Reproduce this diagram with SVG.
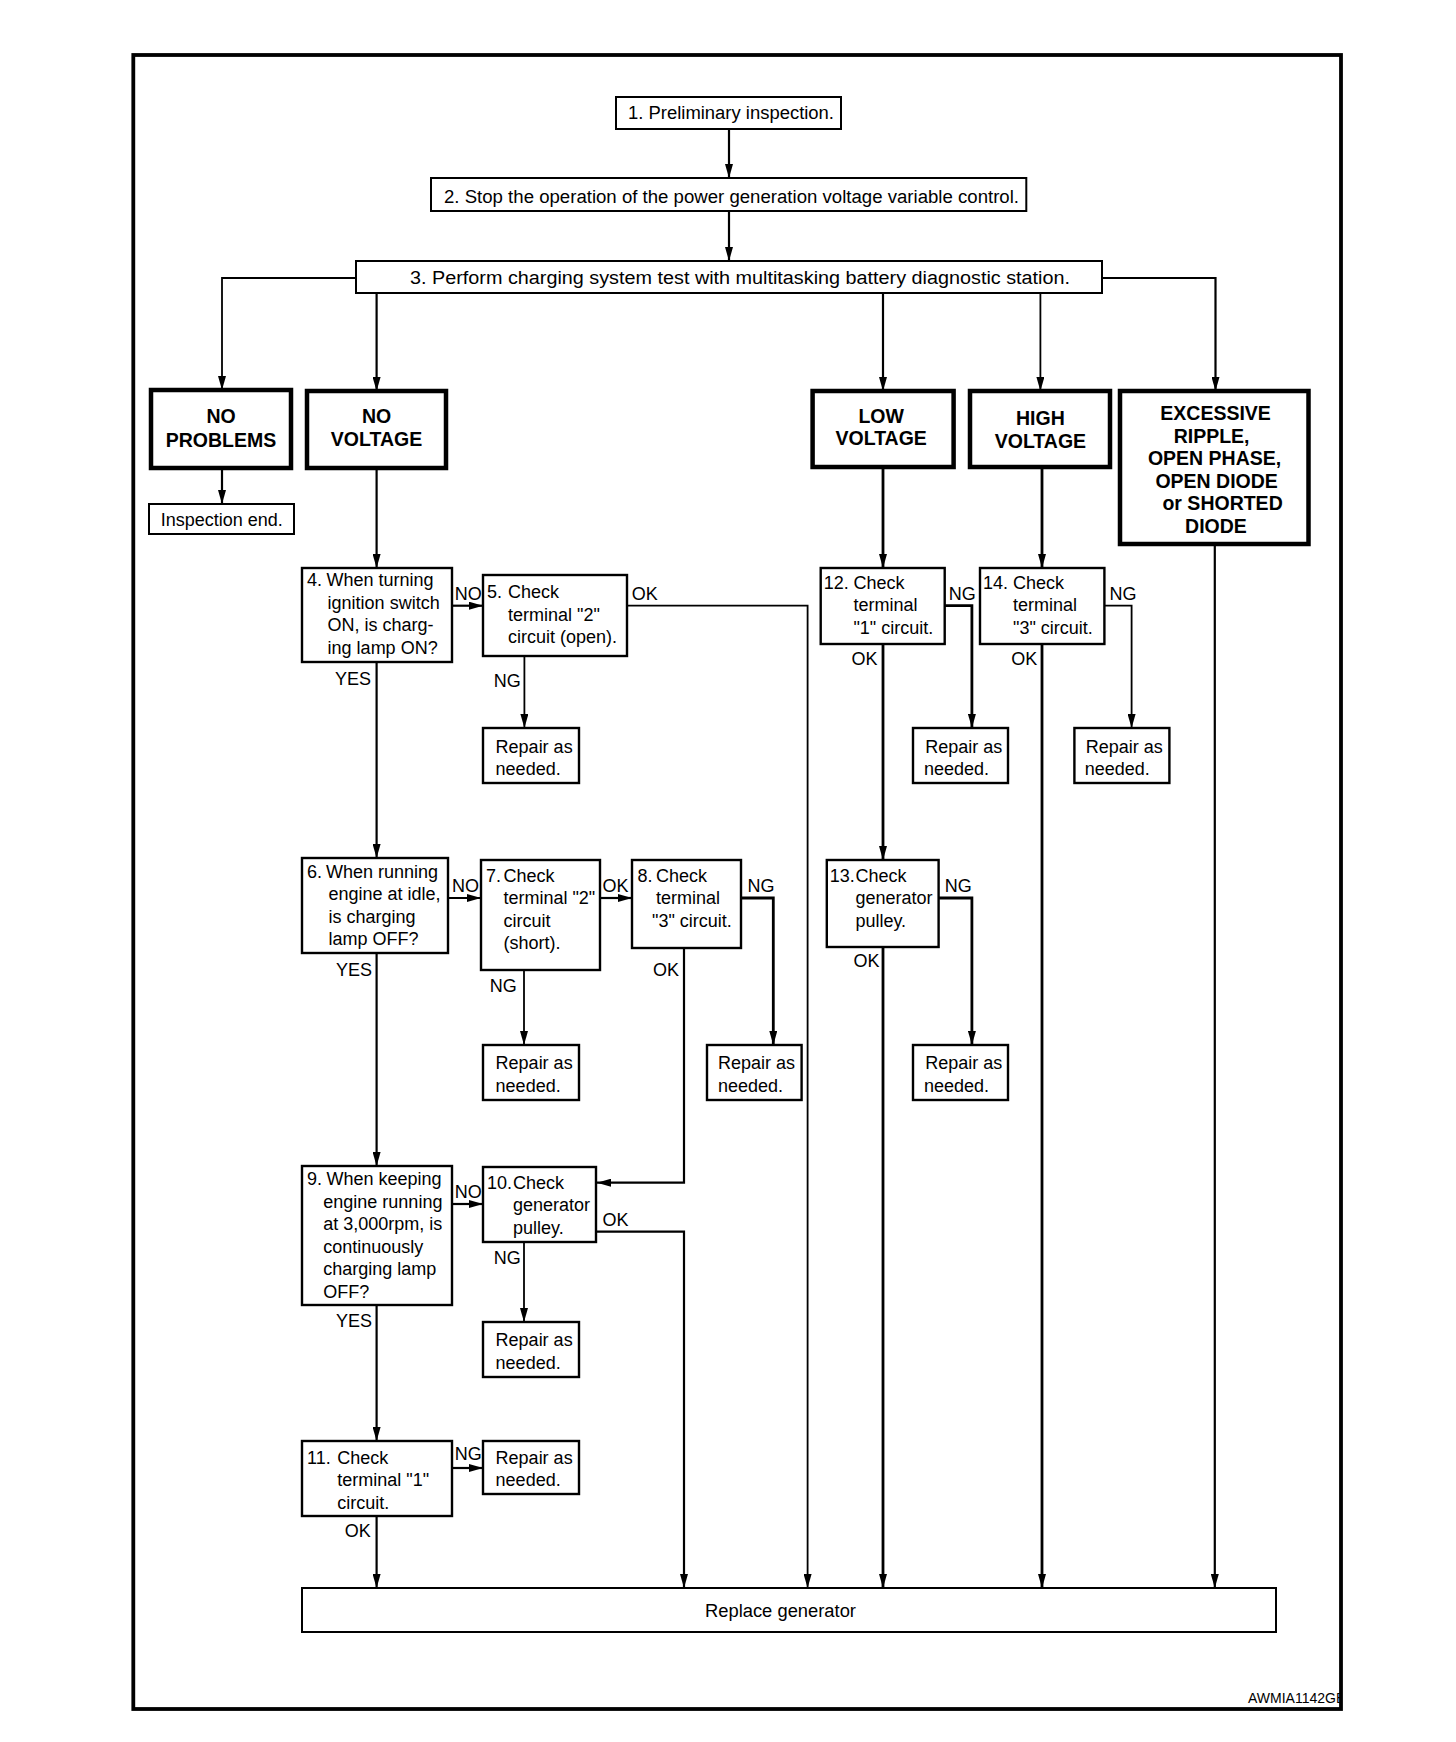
<svg xmlns="http://www.w3.org/2000/svg" width="1456" height="1742" viewBox="0 0 1456 1742">
<style>
.box{fill:#fff;stroke:#000;stroke-width:2.4}
.sbox{fill:#fff;stroke:#000;stroke-width:2}
.hdr{fill:#fff;stroke:#000;stroke-width:4.5}
text{font-family:"Liberation Sans",Arial,Helvetica,sans-serif;font-size:18px;fill:#000}
.b{font-weight:bold;font-size:19.5px;text-anchor:middle}
.c{text-anchor:middle}
.ln{fill:none;stroke:#000;stroke-width:2.2}
.thin{stroke-width:1.8}
.thick{stroke-width:2.8}
</style>
<defs>
<marker id="ah" markerUnits="userSpaceOnUse" markerWidth="14" markerHeight="8" viewBox="0 0 14 8" refX="14" refY="4" orient="auto">
<path d="M0,0 L14,4 L0,8 z" fill="#000"/>
</marker>
<clipPath id="clipR"><rect x="0" y="0" width="1340" height="1742"/></clipPath>
</defs>
<rect width="1456" height="1742" fill="#fff"/>

<g id="connectors">
<path class="ln" d="M729,129 V178" marker-end="url(#ah)"/>
<path class="ln" d="M729,211 V261" marker-end="url(#ah)"/>
<path class="ln thin" d="M356,278 H222 V390" marker-end="url(#ah)"/>
<path class="ln" d="M376.6,293 V391" marker-end="url(#ah)"/>
<path class="ln" d="M883,293 V391" marker-end="url(#ah)"/>
<path class="ln thin" d="M1040.4,293 V391" marker-end="url(#ah)"/>
<path class="ln" d="M1102,278 H1215.5 V391" marker-end="url(#ah)"/>
<path class="ln" d="M222,468 V504" marker-end="url(#ah)"/>
<path class="ln" d="M376.6,468 V568" marker-end="url(#ah)"/>
<path class="ln thick" d="M883,467 V568" marker-end="url(#ah)"/>
<path class="ln thick" d="M1042,467 V568" marker-end="url(#ah)"/>
<path class="ln" d="M452,605.7 H483" marker-end="url(#ah)"/>
<path class="ln thin" d="M627,605.7 H807.6 V1588" marker-end="url(#ah)"/>
<path class="ln thin" d="M524.4,656 V728" marker-end="url(#ah)"/>
<path class="ln" d="M376.6,662 V858" marker-end="url(#ah)"/>
<path class="ln thick" d="M944.7,605.7 H971.9 V728" marker-end="url(#ah)"/>
<path class="ln thin" d="M1104.4,605.7 H1131.6 V728" marker-end="url(#ah)"/>
<path class="ln thick" d="M883,644 V860" marker-end="url(#ah)"/>
<path class="ln thick" d="M1042,644 V1588" marker-end="url(#ah)"/>
<path class="ln" d="M1214.8,545 V1588" marker-end="url(#ah)"/>
<path class="ln" d="M448,898 H481" marker-end="url(#ah)"/>
<path class="ln" d="M600,898 H632" marker-end="url(#ah)"/>
<path class="ln thick" d="M741,898 H773.3 V1045" marker-end="url(#ah)"/>
<path class="ln thin" d="M524,970 V1045" marker-end="url(#ah)"/>
<path class="ln" d="M684,948 V1182.7 H597" marker-end="url(#ah)"/>
<path class="ln" d="M376.6,953 V1166" marker-end="url(#ah)"/>
<path class="ln thick" d="M938.6,898 H971.9 V1045" marker-end="url(#ah)"/>
<path class="ln thick" d="M883,947 V1588" marker-end="url(#ah)"/>
<path class="ln" d="M452,1204 H483" marker-end="url(#ah)"/>
<path class="ln" d="M596,1231.7 H684 V1588" marker-end="url(#ah)"/>
<path class="ln thin" d="M524,1242 V1322" marker-end="url(#ah)"/>
<path class="ln" d="M376.6,1305 V1441" marker-end="url(#ah)"/>
<path class="ln" d="M452,1468 H483" marker-end="url(#ah)"/>
<path class="ln" d="M376.6,1516 V1588" marker-end="url(#ah)"/>
</g>

<g id="labels">
<text x="454.8" y="600">NO</text>
<text x="631.7" y="600">OK</text>
<text x="493.7" y="686.7">NG</text>
<text x="335" y="685">YES</text>
<text x="452" y="891.7">NO</text>
<text x="602.6" y="891.7">OK</text>
<text x="747.6" y="891.7">NG</text>
<text x="336" y="976">YES</text>
<text x="489.8" y="991.7">NG</text>
<text x="653" y="976">OK</text>
<text x="454.8" y="1198.3">NO</text>
<text x="602.6" y="1226">OK</text>
<text x="493.7" y="1264">NG</text>
<text x="336" y="1327.3">YES</text>
<text x="454.8" y="1460">NG</text>
<text x="344.7" y="1537.3">OK</text>
<text x="948.7" y="600">NG</text>
<text x="851.5" y="665">OK</text>
<text x="1109.5" y="600">NG</text>
<text x="1011.2" y="665">OK</text>
<text x="944.7" y="891.7">NG</text>
<text x="853.4" y="966.7">OK</text>
</g>

<g id="n1"><rect class="sbox" x="616" y="97" width="225" height="32"/><text x="628" y="119" textLength="206" lengthAdjust="spacingAndGlyphs">1. Preliminary inspection.</text></g>
<g id="n2"><rect class="sbox" x="431" y="178" width="595.3" height="33"/><text x="444" y="203" textLength="575" lengthAdjust="spacingAndGlyphs">2. Stop the operation of the power generation voltage variable control.</text></g>
<g id="n3"><rect class="sbox" x="356" y="261" width="746" height="32"/><text x="410" y="284" textLength="660" lengthAdjust="spacingAndGlyphs">3. Perform charging system test with multitasking battery diagnostic station.</text></g>

<g id="noproblems"><rect class="hdr" x="151" y="390" width="140" height="78"/><text class="b" x="221" y="423">NO</text><text class="b" x="221" y="446.5">PROBLEMS</text></g>
<g id="novoltage"><rect class="hdr" x="307" y="391" width="139" height="77"/><text class="b" x="376.5" y="423">NO</text><text class="b" x="376.5" y="446">VOLTAGE</text></g>
<g id="lowvoltage"><rect class="hdr" x="812.6" y="391" width="141" height="76"/><text class="b" x="881.2" y="423">LOW</text><text class="b" x="881.2" y="445">VOLTAGE</text></g>
<g id="highvoltage"><rect class="hdr" x="970" y="391" width="140" height="76"/><text class="b" x="1040.4" y="425">HIGH</text><text class="b" x="1040.4" y="448">VOLTAGE</text></g>
<g id="excessive"><rect class="hdr" x="1120" y="391" width="188.5" height="153"/>
<text class="b" x="1215.6" y="420">EXCESSIVE</text>
<text class="b" x="1211.6" y="442.5">RIPPLE,</text>
<text class="b" x="1214.6" y="465">OPEN PHASE,</text>
<text class="b" x="1216.6" y="487.5">OPEN DIODE</text>
<text class="b" x="1222.6" y="510">or SHORTED</text>
<text class="b" x="1216" y="532.5">DIODE</text></g>

<g id="inspend"><rect class="sbox" x="149" y="504" width="145" height="30"/><text class="c" x="221.7" y="526">Inspection end.</text></g>

<g id="n4"><rect class="box" x="302" y="568" width="150" height="94"/>
<text x="307" y="586">4.</text><text x="326.4" y="586">When turning</text>
<text x="327.6" y="608.5">ignition switch</text><text x="327.6" y="631">ON, is charg-</text><text x="327.6" y="653.5">ing lamp ON?</text></g>
<g id="n5"><rect class="box" x="483" y="575" width="144" height="81"/>
<text x="487" y="598">5.</text><text x="508" y="598">Check</text>
<text x="508" y="620.5">terminal "2"</text><text x="508" y="643">circuit (open).</text></g>
<g id="r5"><rect class="box" x="483" y="728" width="96" height="55"/><text x="495.6" y="752.7">Repair as</text><text x="495.6" y="775">needed.</text></g>

<g id="n6"><rect class="box" x="302" y="858" width="146" height="95"/>
<text x="307" y="877.5">6.</text><text x="326" y="877.5">When running</text>
<text x="328.4" y="900">engine at idle,</text><text x="328.4" y="922.5">is charging</text><text x="328.4" y="945">lamp OFF?</text></g>
<g id="n7"><rect class="box" x="481" y="860" width="119" height="110"/>
<text x="486" y="881.5">7.</text><text x="503.4" y="881.5">Check</text>
<text x="503.4" y="904">terminal "2"</text><text x="503.4" y="926.5">circuit</text><text x="503.4" y="949">(short).</text></g>
<g id="n8"><rect class="box" x="632" y="860" width="109" height="88"/>
<text x="637.6" y="881.5">8.</text><text x="656" y="881.5">Check</text>
<text x="656" y="904">terminal</text><text x="652" y="926.5">"3" circuit.</text></g>
<g id="r7"><rect class="box" x="483" y="1045" width="96" height="55"/><text x="495.6" y="1069.3">Repair as</text><text x="495.6" y="1091.7">needed.</text></g>
<g id="r8"><rect class="box" x="707" y="1045" width="94.6" height="55"/><text x="718" y="1069.3">Repair as</text><text x="718" y="1091.7">needed.</text></g>

<g id="n9"><rect class="box" x="302" y="1166" width="150" height="139"/>
<text x="307" y="1185">9.</text><text x="326.4" y="1185">When keeping</text>
<text x="323.3" y="1207.5">engine running</text><text x="323.3" y="1230">at 3,000rpm, is</text>
<text x="323.3" y="1252.5">continuously</text><text x="323.3" y="1275">charging lamp</text><text x="323.3" y="1297.5">OFF?</text></g>
<g id="n10"><rect class="box" x="483" y="1167" width="113" height="75"/>
<text x="487" y="1188.5">10.</text><text x="513" y="1188.5">Check</text>
<text x="513" y="1211">generator</text><text x="513" y="1233.5">pulley.</text></g>
<g id="r10"><rect class="box" x="483" y="1322" width="96" height="55"/><text x="495.6" y="1346">Repair as</text><text x="495.6" y="1368.5">needed.</text></g>

<g id="n11"><rect class="box" x="302" y="1441" width="150" height="75"/>
<text x="307" y="1463.5">11.</text><text x="337.3" y="1463.5">Check</text>
<text x="337.3" y="1486">terminal "1"</text><text x="337.3" y="1508.5">circuit.</text></g>
<g id="r11"><rect class="box" x="483" y="1441" width="96" height="53"/><text x="495.6" y="1463.5">Repair as</text><text x="495.6" y="1486">needed.</text></g>

<g id="n12"><rect class="box" x="820.7" y="568" width="124" height="76"/>
<text x="823.7" y="588.5">12.</text><text x="853.4" y="588.5">Check</text>
<text x="853.4" y="611">terminal</text><text x="853.4" y="633.5">"1" circuit.</text></g>
<g id="r12"><rect class="box" x="913" y="728" width="95" height="55"/><text x="925.2" y="752.7">Repair as</text><text x="924" y="775">needed.</text></g>
<g id="n13"><rect class="box" x="826.8" y="860" width="111.8" height="87"/>
<text x="829.8" y="881.5">13.</text><text x="855.4" y="881.5">Check</text>
<text x="855.4" y="904">generator</text><text x="855.4" y="926.5">pulley.</text></g>
<g id="r13"><rect class="box" x="913" y="1045" width="95" height="55"/><text x="925.2" y="1069.3">Repair as</text><text x="924" y="1091.7">needed.</text></g>
<g id="n14"><rect class="box" x="980" y="568" width="124.4" height="76"/>
<text x="983" y="588.5">14.</text><text x="1013" y="588.5">Check</text>
<text x="1013" y="611">terminal</text><text x="1013" y="633.5">"3" circuit.</text></g>
<g id="r14"><rect class="box" x="1074.4" y="728" width="95" height="55"/><text x="1085.7" y="752.7">Repair as</text><text x="1084.7" y="775">needed.</text></g>

<g id="replace"><rect class="sbox" x="302" y="1588" width="974" height="44"/><text x="705" y="1617" textLength="151" lengthAdjust="spacingAndGlyphs">Replace generator</text></g>

<g id="frame">
<text x="1248" y="1703" style="font-size:14px" clip-path="url(#clipR)">AWMIA1142GB</text>
<rect x="133.3" y="55" width="1207.7" height="1654" fill="none" stroke="#000" stroke-width="3.8"/>
</g>
</svg>
